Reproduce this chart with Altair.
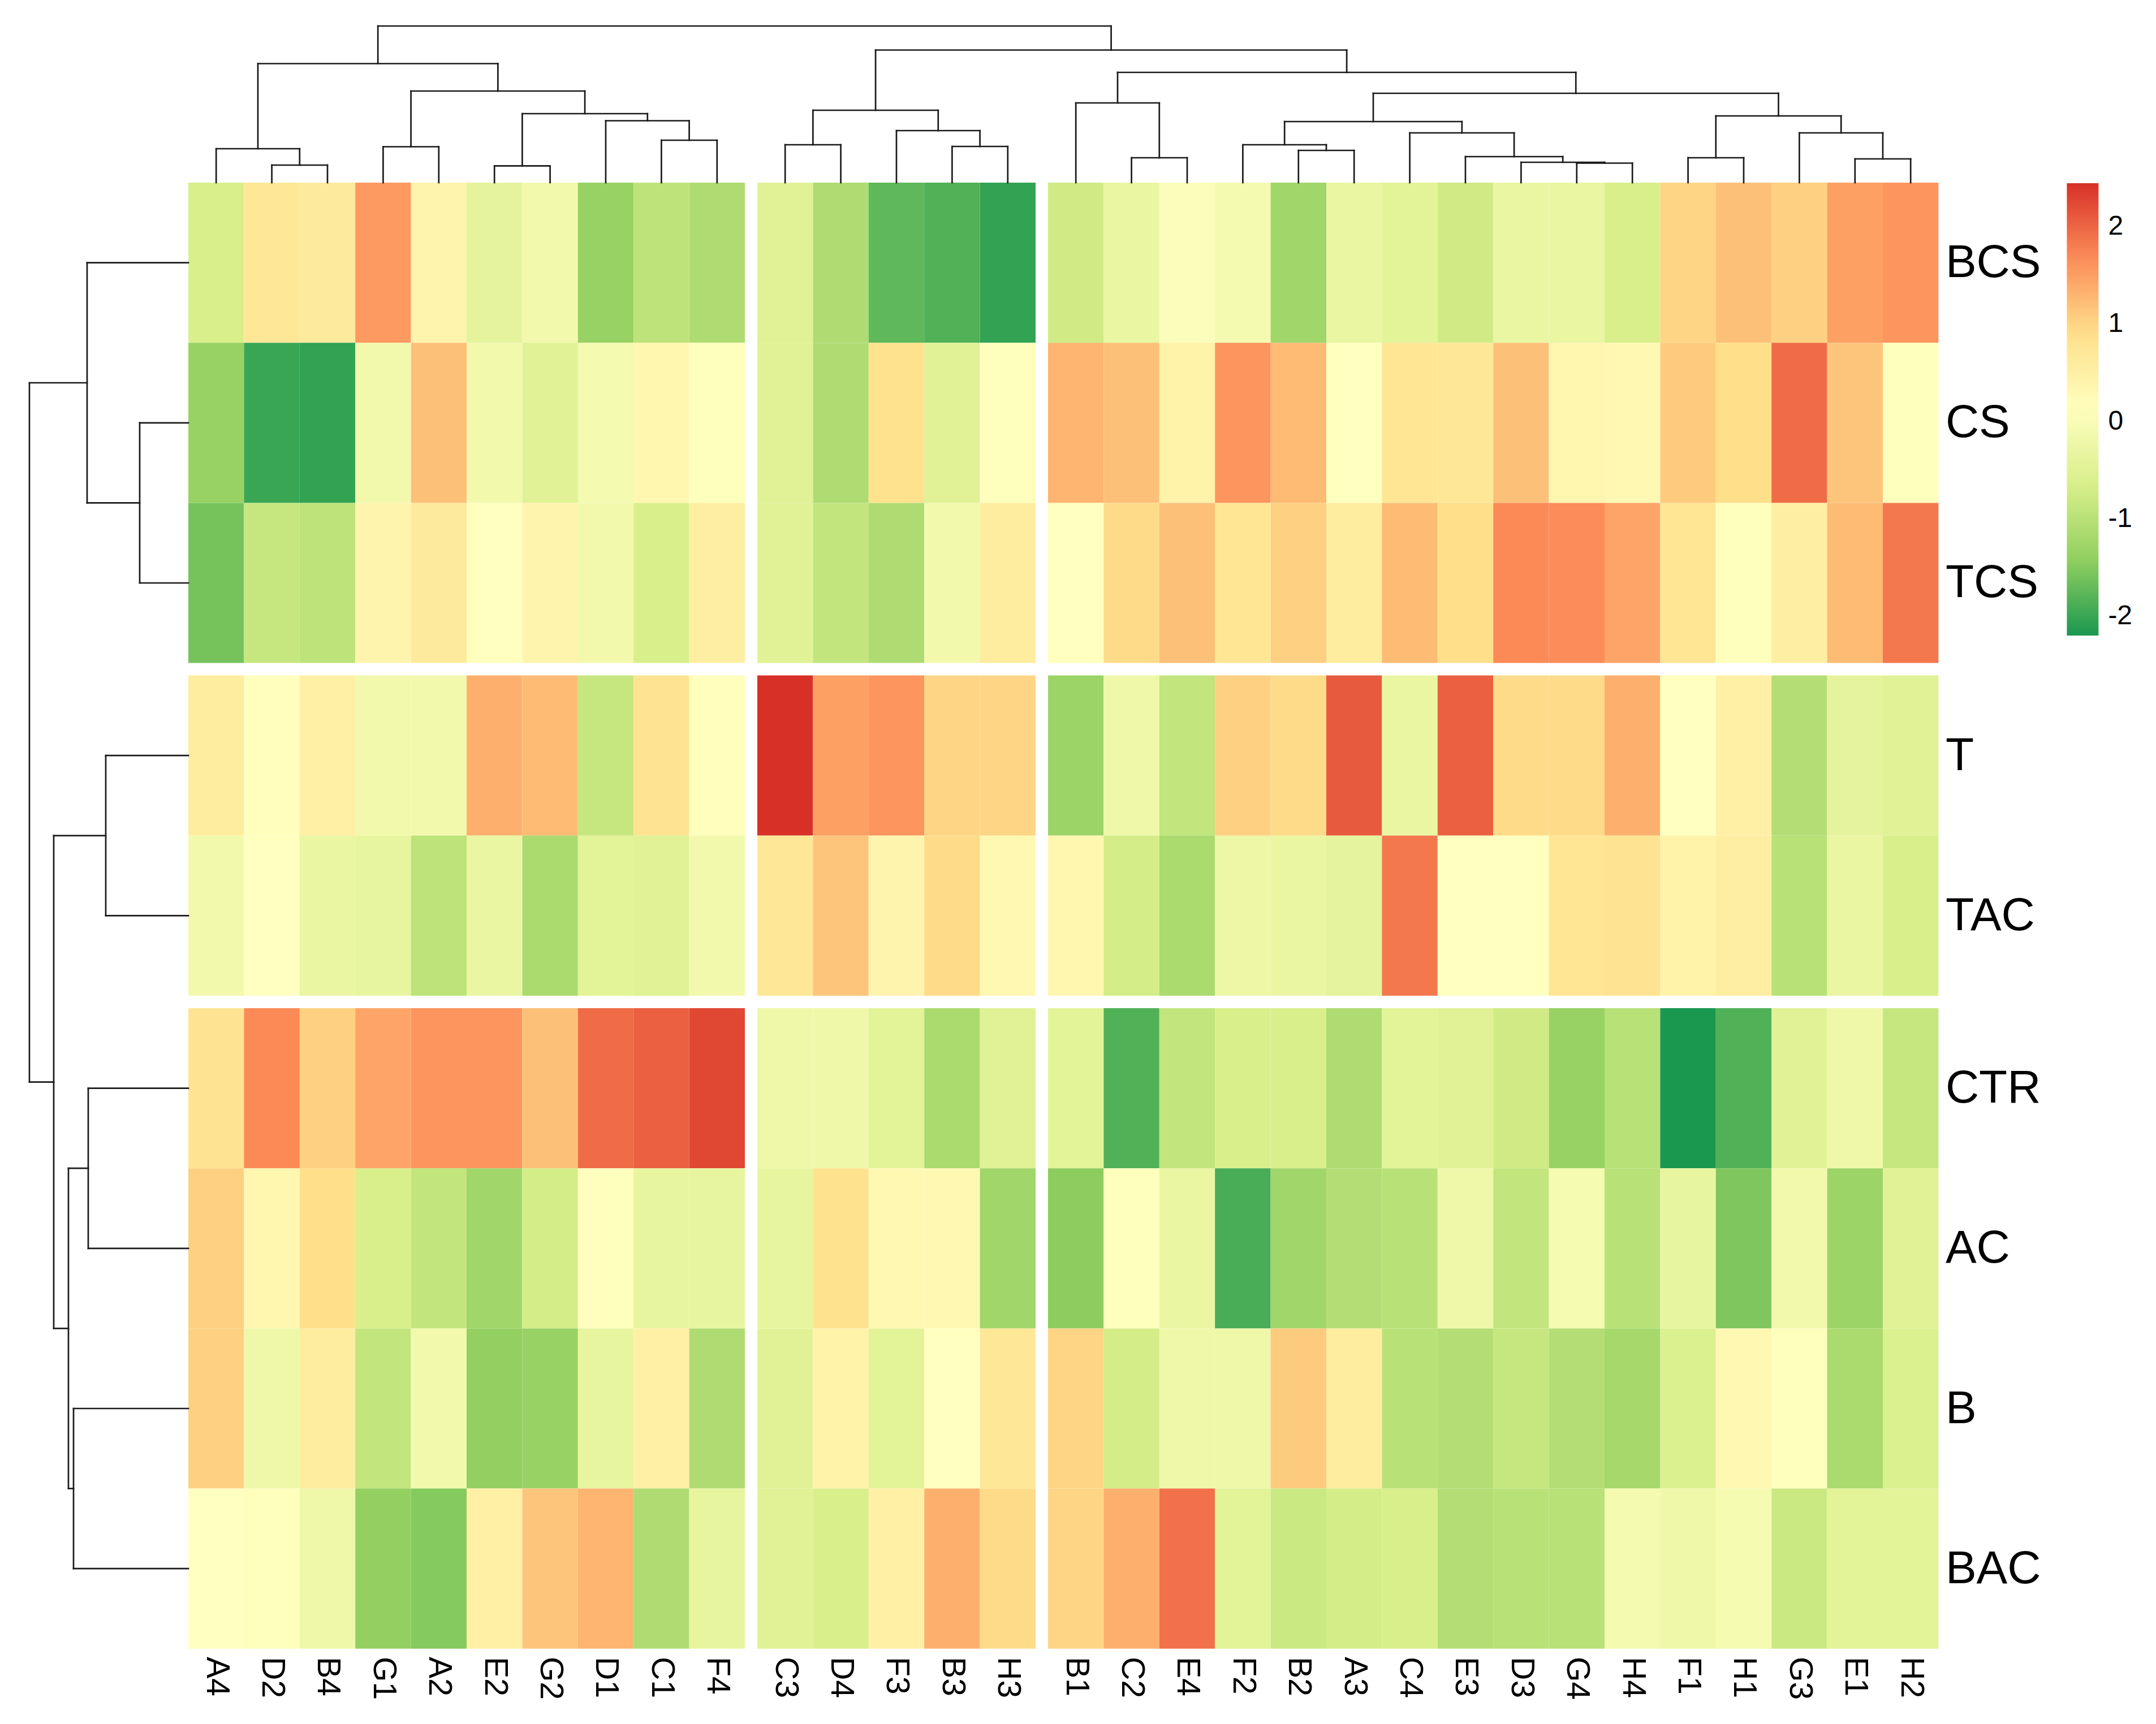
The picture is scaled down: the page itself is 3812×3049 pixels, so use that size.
import json
import altair as alt
import pandas as pd

# ---------------- data ----------------
cols = ["A4", "D2", "B4", "G1", "A2", "E2", "G2", "D1", "C1", "F4",
        "C3", "D4", "F3", "B3", "H3",
        "B1", "C2", "E4", "F2", "B2", "A3", "C4", "E3", "D3", "G4", "H4", "F1", "H1", "G3", "E1", "H2"]
col_group_sizes = [10, 5, 16]
rows = ["BCS", "CS", "TCS", "T", "TAC", "CTR", "AC", "B", "BAC"]
row_group_sizes = [3, 2, 4]

BCS = [-0.65, 0.7, 0.65, 1.55, 0.4, -0.4, -0.15, -1.35, -0.95, -1.1,
       -0.5, -1.1, -1.75, -1.85, -2.05,
       -0.75, -0.3, 0.05, -0.1, -1.25, -0.3, -0.45, -0.75, -0.3, -0.3, -0.65, 1.0, 1.2, 1.05, 1.5, 1.6]
CS = [-1.35, -2.0, -2.05, -0.15, 1.2, -0.15, -0.5, -0.1, 0.35, 0.1,
      -0.5, -1.1, 0.85, -0.5, 0.1,
      1.3, 1.2, 0.45, 1.6, 1.25, 0.12, 0.75, 0.7, 1.2, 0.35, 0.3, 1.1, 0.9, 1.95, 1.15, 0.1]
TCS = [-1.6, -0.85, -0.95, 0.4, 0.65, 0.12, 0.4, -0.15, -0.65, 0.55,
       -0.5, -0.9, -1.1, -0.15, 0.6,
       0.12, 0.95, 1.2, 0.75, 1.05, 0.6, 1.25, 0.9, 1.7, 1.68, 1.45, 0.75, 0.1, 0.55, 1.25, 1.85]
T = [0.6, 0.15, 0.5, -0.15, -0.15, 1.35, 1.25, -0.85, 0.8, 0.15,
     2.45, 1.5, 1.6, 1.0, 1.0,
     -1.3, -0.2, -0.9, 1.05, 0.95, 2.1, -0.3, 2.05, 0.95, 0.95, 1.35, 0.12, 0.5, -1.05, -0.4, -0.5]
TAC = [-0.15, 0.12, -0.3, -0.35, -0.95, -0.3, -1.15, -0.45, -0.5, -0.15,
       0.7, 1.15, 0.4, 0.95, 0.3,
       0.35, -0.7, -1.15, -0.25, -0.3, -0.4, 1.85, 0.12, 0.12, 0.75, 0.8, 0.45, 0.55, -1.0, -0.3, -0.65]
CTR = [0.8, 1.7, 1.05, 1.45, 1.6, 1.6, 1.2, 1.95, 2.05, 2.25,
       -0.2, -0.2, -0.45, -1.15, -0.5,
       -0.45, -1.85, -0.9, -0.65, -0.65, -1.1, -0.45, -0.5, -0.75, -1.35, -1.0, -2.2, -1.85, -0.5, -0.2, -0.85]
AC = [1.05, 0.35, 0.9, -0.65, -0.9, -1.25, -0.7, 0.1, -0.35, -0.35,
      -0.35, 0.85, 0.3, 0.3, -1.25,
      -1.45, 0.1, -0.3, -1.9, -1.25, -1.05, -1.0, -0.2, -0.9, -0.08, -1.0, -0.35, -1.55, -0.15, -1.3, -0.5]
B = [1.05, -0.2, 0.6, -0.9, -0.15, -1.4, -1.35, -0.35, 0.5, -1.1,
     -0.5, 0.45, -0.45, 0.12, 0.7,
     1.0, -0.7, -0.2, -0.2, 1.1, 0.6, -1.0, -1.05, -0.85, -1.05, -1.2, -0.6, 0.3, 0.1, -1.15, -0.6]
BAC = [0.12, 0.1, -0.2, -1.4, -1.5, 0.5, 1.15, 1.3, -1.1, -0.35,
       -0.5, -0.65, 0.5, 1.35, 0.95,
       1.0, 1.35, 1.9, -0.45, -0.8, -0.7, -0.65, -1.05, -1.0, -1.0, -0.1, -0.2, -0.08, -0.8, -0.45, -0.45]
row_values = {"BCS": BCS, "CS": CS, "TCS": TCS, "T": T, "TAC": TAC,
              "CTR": CTR, "AC": AC, "B": B, "BAC": BAC}

# dendrograms: (merge height, left, right); leaves are names
col_tree = (277,
            (210.5,
             (60, "A4", (31, "D2", "B4")),
             (162, (63.5, "G1", "A2"),
              (122, (29.6, "E2", "G2"), (109.5, "D1", (75, "C1", "F4"))))),
            (234.5,
             (128, (67, "C3", "D4"), (92, "F3", (64, "B3", "H3"))),
             (195,
              (141, "B1", (44, "C2", "E4")),
              (158,
               (108, (67, "F2", (57, "B2", "A3")),
                (88, "C4", (46, "E3", (36, "D3", (34.5, "G4", "H4"))))),
               (118, (44, "F1", "H1"), (88, "G3", (42, "E1", "H2")))))))
row_tree = (281,
            (179, "BCS", (86, "CS", "TCS")),
            (238, (146, "T", "TAC"),
             (212, (177, "CTR", "AC"), (203, "B", "BAC"))))

legend_ticks = [-2, -1, 0, 1, 2]
palette = ["#1A9850", "#91CF60", "#D9EF8B", "#FFFFBF", "#FEE08B", "#FC8D59", "#D73027"]

# ---------------- layout ----------------
CELL_W = 98.4      # px per column
CELL_H = 283.2     # px per row
GAP = 22.0         # px between split groups
LEFT_SPACE = 320.0 # px reserved for row dendrogram
TOP_SPACE = 310.0  # px reserved for column dendrogram

gx = GAP / CELL_W
gy = GAP / CELL_H


def group_index(sizes):
    out = []
    for g, n in enumerate(sizes):
        out += [g] * n
    return out


col_grp = group_index(col_group_sizes)
row_grp = group_index(row_group_sizes)
col_x0 = [i + gx * col_grp[i] for i in range(len(cols))]
row_y0 = [j + gy * row_grp[j] for j in range(len(rows))]
col_center = {c: round(col_x0[i] + 0.5, 4) for i, c in enumerate(cols)}
row_center = {r: round(row_y0[j] + 0.5, 4) for j, r in enumerate(rows)}

x_max = len(cols) + gx * (len(col_group_sizes) - 1)
y_max = len(rows) + gy * (len(row_group_sizes) - 1)
x_min = -LEFT_SPACE / CELL_W
y_min = -TOP_SPACE / CELL_H

cells = []
for j, r in enumerate(rows):
    for i, c in enumerate(cols):
        cells.append({"col": c, "row": r, "value": row_values[r][i],
                      "x0": col_x0[i], "x1": col_x0[i] + 1,
                      "y0": row_y0[j], "y1": row_y0[j] + 1})
cells_df = pd.DataFrame(cells)


def tree_segments(tree, leaf_pos):
    segs = []

    def rec(node):
        if isinstance(node, str):
            return leaf_pos[node], 0.0
        h, l, r = node
        pl, hl = rec(l)
        pr, hr = rec(r)
        segs.append((pl, pl, hl, h))
        segs.append((pr, pr, hr, h))
        segs.append((pl, pr, h, h))
        return (pl + pr) / 2.0, h

    rec(tree)
    return segs


seg_rows = []
for p1, p2, h1, h2 in tree_segments(col_tree, col_center):
    seg_rows.append({"x0": p1, "x1": p2, "y0": -h1 / CELL_H, "y1": -h2 / CELL_H})
for p1, p2, h1, h2 in tree_segments(row_tree, row_center):
    seg_rows.append({"x0": -h1 / CELL_W, "x1": -h2 / CELL_W, "y0": p1, "y1": p2})
seg_df = pd.DataFrame(seg_rows)

width = (x_max - x_min) * CELL_W
height = (y_max - y_min) * CELL_H

FONT = "Liberation Sans"
xc_vals = [col_center[c] for c in cols]
yc_vals = [row_center[r] for r in rows]

x_axis = alt.Axis(values=xc_vals,
                  labelExpr=f"{json.dumps(cols)}[indexof({json.dumps(xc_vals)}, datum.value)]",
                  orient="bottom", labelAngle=90, labelAlign="left", labelBaseline="middle",
                  labelPadding=14, ticks=False, tickSize=0, domain=False, grid=False,
                  labelFont=FONT, labelFontSize=57, labelColor="black", title=None,
                  labelOverlap=False, labelBound=False, labelFlush=False)
y_axis = alt.Axis(values=yc_vals,
                  labelExpr=f"{json.dumps(rows)}[indexof({json.dumps(yc_vals)}, datum.value)]",
                  orient="right", labelAlign="left", labelBaseline="middle",
                  labelPadding=12, ticks=False, tickSize=0, domain=False, grid=False,
                  labelFont=FONT, labelFontSize=82, labelColor="black", title=None,
                  labelOverlap=False, labelBound=False, labelFlush=False)

xs = alt.Scale(domain=[x_min, x_max], nice=False, zero=False)
ys = alt.Scale(domain=[y_min, y_max], nice=False, zero=False, reverse=True)

vmin, vmax = -2.2, 2.45
stops = [vmin + k * (vmax - vmin) / 6 for k in range(7)]
cscale = alt.Scale(domain=stops, range=palette, interpolate="rgb")

legend = alt.Legend(type="gradient", orient="none", legendX=width + 227, legendY=TOP_SPACE + 1,
                    direction="vertical", gradientLength=800, gradientThickness=56,
                    gradientStrokeWidth=0, labelFont=FONT, labelFontSize=48,
                    labelColor="black", labelOffset=17, values=legend_ticks,
                    labelExpr="datum.value < 0 ? '-' + abs(datum.value) : '' + datum.value",
                    padding=0)

heat = alt.Chart(cells_df).mark_rect().encode(
    x=alt.X("x0:Q", scale=xs, axis=x_axis),
    x2="x1:Q",
    y=alt.Y("y0:Q", scale=ys, axis=y_axis),
    y2="y1:Q",
    color=alt.Color("value:Q", scale=cscale, legend=legend, title=None),
)

dendro = alt.Chart(seg_df).mark_rule(color="#1a1a1a", strokeWidth=2.7, strokeCap="square").encode(
    x=alt.X("x0:Q", scale=xs, axis=x_axis),
    x2="x1:Q",
    y=alt.Y("y0:Q", scale=ys, axis=y_axis),
    y2="y1:Q",
)

chart = alt.layer(heat, dendro).properties(
    width=width, height=height, background="white"
).configure_view(stroke=None)

chart.save("out.html", embed_options={"renderer": "svg", "actions": False})
